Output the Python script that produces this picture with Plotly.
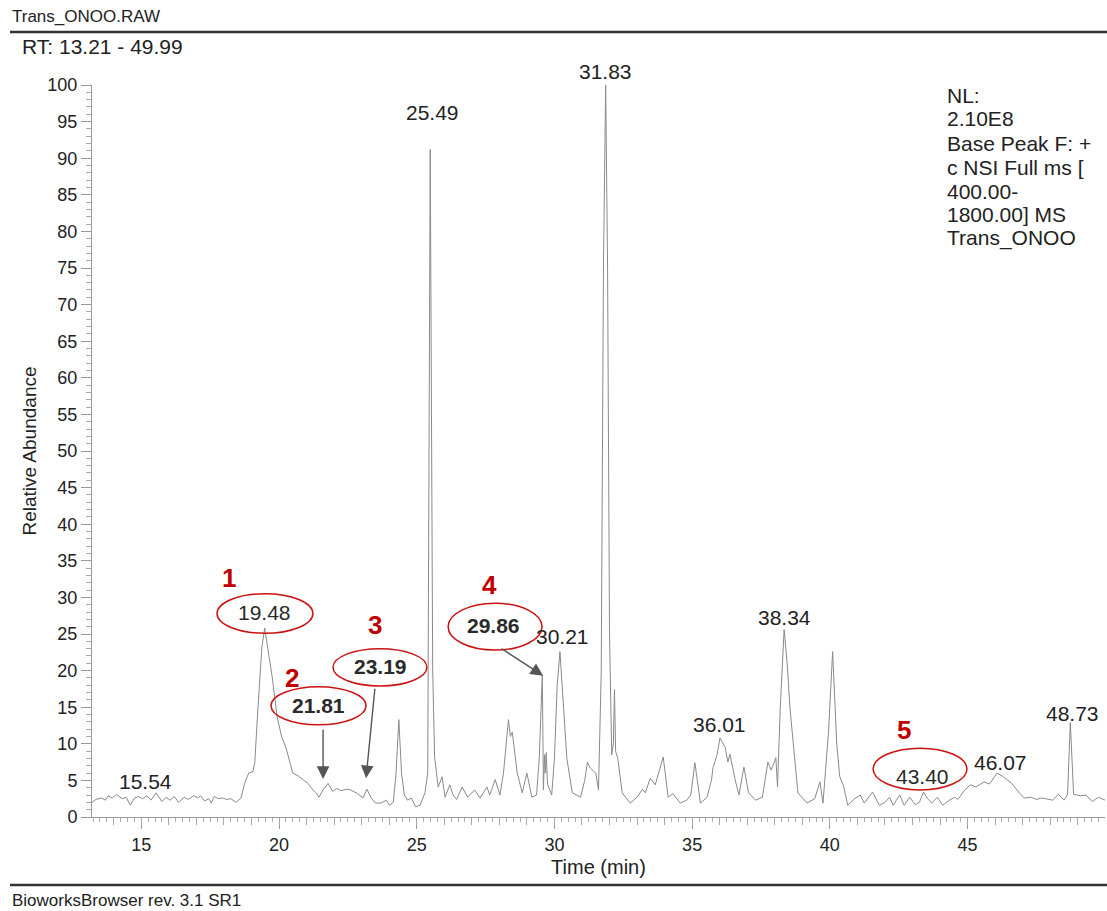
import plotly.graph_objects as go

# ---- chromatogram data ----
time_min = [
    13.21, 13.35, 13.55, 13.70, 13.80, 13.95, 14.10, 14.30, 14.45, 14.60, 14.75, 14.90, 15.05, 15.20, 15.35,
    15.54, 15.75, 15.90, 16.05, 16.20, 16.35, 16.56, 16.70, 16.90, 17.05, 17.15, 17.30, 17.45, 17.54, 17.65,
    17.80, 17.95, 18.10, 18.25, 18.44, 18.62, 18.75, 18.90, 19.05, 19.12, 19.23, 19.38, 19.48, 19.60, 19.75,
    19.93, 20.10, 20.25, 20.36, 20.50, 20.70, 20.87, 21.05, 21.23, 21.35, 21.45, 21.60, 21.78, 21.95, 22.10,
    22.25, 22.45, 22.60, 22.85, 23.05, 23.19, 23.35, 23.50, 23.70, 23.90, 24.00, 24.15, 24.25, 24.35, 24.45,
    24.55, 24.67, 24.80, 24.96, 25.12, 25.30, 25.40, 25.45, 25.49, 25.53, 25.58, 25.65, 25.78, 25.92, 26.03,
    26.20, 26.32, 26.45, 26.65, 26.85, 27.10, 27.30, 27.55, 27.65, 27.85, 28.02, 28.15, 28.33, 28.40, 28.47,
    28.65, 28.83, 29.00, 29.18, 29.35, 29.45, 29.56, 29.60, 29.64, 29.67, 29.70, 29.75, 29.90, 30.00, 30.10,
    30.20, 30.30, 30.45, 30.65, 30.95, 31.10, 31.20, 31.30, 31.50, 31.60, 31.70, 31.78, 31.86, 31.93, 32.00,
    32.08, 32.14, 32.18, 32.22, 32.30, 32.46, 32.75, 33.00, 33.20, 33.30, 33.48, 33.66, 33.95, 34.13, 34.30,
    34.50, 34.57, 34.80, 34.95, 35.10, 35.30, 35.54, 35.70, 35.76, 35.90, 36.01, 36.20, 36.30, 36.37, 36.56,
    36.70, 36.88, 37.05, 37.30, 37.55, 37.75, 37.87, 38.04, 38.10, 38.20, 38.34, 38.45, 38.55, 38.66, 38.84,
    39.17, 39.45, 39.64, 39.75, 39.95, 40.10, 40.25, 40.36, 40.50, 40.65, 40.90, 41.10, 41.25, 41.55, 41.80,
    42.00, 42.17, 42.30, 42.40, 42.54, 42.70, 42.90, 43.10, 43.25, 43.40, 43.55, 43.70, 43.90, 44.10, 44.30,
    44.53, 44.65, 44.90, 45.10, 45.30, 45.45, 45.60, 45.80, 46.07, 46.30, 46.60, 46.90, 47.06, 47.30, 47.50,
    47.70, 48.08, 48.30, 48.50, 48.63, 48.73, 48.85, 49.10, 49.30, 49.53, 49.75, 49.99,
]
rel_abundance = [
    2.0, 2.4, 2.6, 2.3, 2.9, 2.6, 3.1, 2.5, 2.7, 1.6, 2.6, 2.8, 2.5, 2.9, 2.3,
    3.3, 2.1, 2.7, 2.3, 2.8, 2.0, 2.7, 2.4, 2.9, 2.6, 2.9, 2.2, 2.5, 1.9, 2.8,
    2.5, 2.6, 2.4, 2.5, 2.0, 2.6, 4.6, 6.0, 6.2, 7.4, 14.6, 23.3, 25.8, 23.0, 19.2,
    13.7, 10.9, 9.5, 7.8, 6.0, 5.6, 5.1, 4.6, 3.7, 3.3, 2.7, 3.7, 4.6, 3.5, 3.9,
    3.6, 3.8, 3.7, 3.2, 2.6, 3.8, 2.6, 1.9, 1.9, 2.3, 1.6, 2.0, 6.0, 13.3, 6.0,
    3.0, 2.3, 2.6, 1.4, 1.6, 3.3, 6.0, 50.0, 91.2, 60.0, 20.0, 8.2, 4.1, 5.5, 2.7,
    4.4, 3.0, 2.4, 4.1, 2.7, 3.7, 2.6, 4.1, 3.0, 5.1, 3.0, 6.0, 13.3, 11.0, 11.6,
    6.0, 3.3, 6.0, 2.7, 3.0, 8.0, 19.4, 3.7, 8.5, 6.0, 8.8, 4.5, 3.0, 8.0, 18.0,
    22.6, 17.0, 8.0, 3.3, 2.7, 5.0, 7.5, 6.7, 6.0, 3.7, 20.0, 75.0, 100.0, 75.0, 25.0,
    8.5, 10.0, 17.4, 9.0, 8.0, 3.3, 1.9, 2.7, 3.8, 3.3, 5.3, 4.4, 8.2, 2.7, 3.2,
    2.3, 1.9, 2.3, 3.0, 7.4, 1.9, 2.7, 5.0, 6.8, 8.4, 10.8, 9.5, 7.5, 8.6, 5.1,
    3.0, 6.8, 3.3, 2.3, 2.7, 7.5, 6.4, 8.1, 4.1, 15.0, 25.6, 21.0, 15.0, 10.5, 3.3,
    1.9, 2.5, 4.8, 1.9, 11.5, 22.6, 10.0, 5.5, 4.2, 1.6, 2.5, 3.0, 1.9, 3.4, 1.6,
    2.0, 2.7, 1.6, 2.2, 3.0, 1.6, 2.7, 1.7, 2.0, 3.4, 2.5, 1.9, 2.7, 1.6, 2.2,
    2.7, 2.4, 3.7, 4.4, 4.1, 4.5, 4.8, 4.5, 6.0, 5.5, 4.6, 3.2, 2.6, 2.7, 2.4,
    2.6, 2.3, 3.1, 2.3, 3.0, 12.9, 3.1, 2.9, 3.0, 2.1, 2.7, 2.3,
]

# labelled peaks (plain labels): text, x, y of label centre
peak_labels = ["15.54", "25.49", "31.83", "30.21", "36.01", "38.34", "46.07", "48.73"]
peak_label_x = [15.17, 25.56, 31.84, 30.28, 36.01, 38.37, 46.18, 48.80]
peak_label_y = [4.8, 96.3, 100.0, 24.6, 12.7, 27.2, 7.5, 14.2]
peak_label_yshift = [0, 0, 14, 0, 0, 0, 0, 0]

# circled peaks
circ_labels = ["19.48", "21.81", "23.19", "29.86", "43.40"]
circ_numbers = ["1", "2", "3", "4", "5"]
circ_bold = [False, True, True, True, False]
circ_x = [19.49, 21.42, 23.67, 27.77, 43.35]
circ_y = [28.0, 15.3, 20.5, 26.1, 5.5]
ell_x0 = [17.75, 19.71, 21.96, 26.14, 41.57]
ell_x1 = [21.23, 23.16, 25.37, 29.55, 44.98]
ell_y0 = [25.1, 12.6, 17.9, 22.8, 3.7]
ell_y1 = [30.5, 17.8, 23.0, 29.2, 9.4]
num_x = [18.18, 20.47, 23.49, 27.63, 42.69]
num_y = [32.7, 19.0, 26.2, 31.7, 11.9]

# arrows: head position and tail offset in pixels
arrow_x = [21.60, 23.16, 29.59]
arrow_y = [5.2, 5.3, 19.3]
arrow_ax = [0, 9, -43]
arrow_ay = [-51, -91, -28]

info_lines = ["NL:", "2.10E8", "Base Peak F: +", "c NSI Full ms [", "400.00-", "1800.00] MS", "Trans_ONOO"]
info_py = [96, 118, 143, 168, 191, 214, 238]

FONT = "Liberation Sans, Arial, sans-serif"
TXT = "#222222"
L, R, T, B = 92, 2, 85, 94
W, H = 1107, 911
PW, PH = W - L - R, H - T - B

def px(x):
    return (x - L) / PW

def py(y):
    return (H - B - y) / PH

fig = go.Figure()
fig.add_trace(go.Scatter(x=time_min, y=rel_abundance, mode="lines",
                         line=dict(color="#8a8a8a", width=1), hoverinfo="x+y",
                         showlegend=False))
# helper trace for the 1-min tick axis
fig.add_trace(go.Scatter(x=time_min, y=rel_abundance, xaxis="x2", mode="lines",
                         line=dict(width=0), opacity=0, hoverinfo="skip", showlegend=False))

ann = []
for t, x, y, s in zip(peak_labels, peak_label_x, peak_label_y, peak_label_yshift):
    ann.append(dict(x=x, y=y, xref="x", yref="y", text=t, showarrow=False, yshift=s,
                    font=dict(family=FONT, size=21, color=TXT)))
for t, n, b, x, y, nx, ny in zip(circ_labels, circ_numbers, circ_bold, circ_x, circ_y, num_x, num_y):
    ann.append(dict(x=x, y=y, xref="x", yref="y", text=f"<b>{t}</b>" if b else t, showarrow=False,
                    font=dict(family=FONT, size=21, color="#2a2a2a")))
    ann.append(dict(x=nx, y=ny, xref="x", yref="y", text=f"<b>{n}</b>", showarrow=False,
                    font=dict(family=FONT, size=26, color="#c00000")))
for x, y, ax, ay in zip(arrow_x, arrow_y, arrow_ax, arrow_ay):
    ann.append(dict(x=x, y=y, xref="x", yref="y", text="", showarrow=True, ax=ax, ay=ay,
                    arrowhead=2, arrowsize=1.8, arrowwidth=1.4, arrowcolor="#555555"))
for line, yy in zip(info_lines, info_py):
    ann.append(dict(x=px(945), y=py(yy), xref="paper", yref="paper", text=line, showarrow=False,
                    xanchor="left", yanchor="middle", font=dict(family=FONT, size=21, color=TXT)))
ann.append(dict(x=px(10), y=py(17), xref="paper", yref="paper", text="Trans_ONOO.RAW",
                showarrow=False, xanchor="left", yanchor="middle",
                font=dict(family=FONT, size=17, color=TXT)))
ann.append(dict(x=px(20), y=py(46), xref="paper", yref="paper", text="RT: 13.21 - 49.99",
                showarrow=False, xanchor="left", yanchor="middle",
                font=dict(family=FONT, size=21, color=TXT)))
ann.append(dict(x=px(10), y=py(901), xref="paper", yref="paper", text="BioworksBrowser rev. 3.1 SR1",
                showarrow=False, xanchor="left", yanchor="middle",
                font=dict(family=FONT, size=17, color=TXT)))

shapes = []
for x0, x1, y0, y1 in zip(ell_x0, ell_x1, ell_y0, ell_y1):
    shapes.append(dict(type="circle", xref="x", yref="y", x0=x0, x1=x1, y0=y0, y1=y1,
                       line=dict(color="#cc1111", width=1.5)))
shapes.append(dict(type="line", xref="paper", yref="paper", x0=px(10), x1=px(1107),
                   y0=py(32), y1=py(32), line=dict(color="#333333", width=2.5)))
shapes.append(dict(type="line", xref="paper", yref="paper", x0=px(10), x1=px(1107),
                   y0=py(885), y1=py(885), line=dict(color="#333333", width=2.5)))

fig.update_layout(
    width=W, height=H, margin=dict(l=L, r=R, t=T, b=B),
    paper_bgcolor="white", plot_bgcolor="white",
    font=dict(family=FONT, color=TXT),
    annotations=ann, shapes=shapes, showlegend=False,
    xaxis=dict(range=[13.21, 49.99], tick0=0, dtick=5, ticks="outside", ticklen=11,
               tickcolor="#999999", showline=True, linecolor="#999999", showgrid=False,
               zeroline=False, tickfont=dict(family=FONT, size=18, color=TXT),
               minor=dict(dtick=0.25, tick0=0, ticks="outside", ticklen=4, tickcolor="#aaaaaa"),
               title=dict(text="Time (min)", font=dict(family=FONT, size=20, color=TXT), standoff=6)),
    xaxis2=dict(range=[13.21, 49.99], overlaying="x", anchor="y", side="bottom",
                tick0=0, dtick=1, ticks="outside", ticklen=7, tickcolor="#aaaaaa",
                showticklabels=False, showline=False, showgrid=False, zeroline=False),
    yaxis=dict(range=[0, 100], tick0=0, dtick=5, ticks="outside", ticklen=10,
               tickcolor="#999999", showline=True, linecolor="#999999", showgrid=False,
               zeroline=False, tickfont=dict(family=FONT, size=18, color=TXT),
               minor=dict(dtick=1, tick0=0, ticks="outside", ticklen=5, tickcolor="#aaaaaa"),
               title=dict(text="Relative Abundance", font=dict(family=FONT, size=19, color=TXT),
                          standoff=5)),
)

fig.write_html("out.html", config={"displayModeBar": False},
               post_script="document.body.style.margin='0';document.body.style.overflow='hidden';")
